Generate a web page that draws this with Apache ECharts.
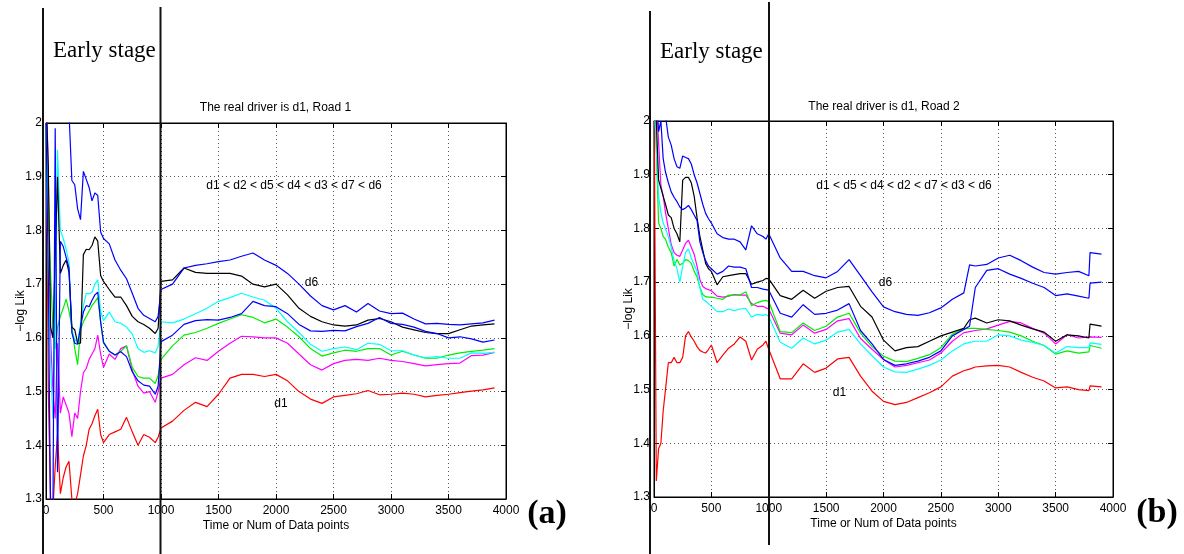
<!DOCTYPE html>
<html><head><meta charset="utf-8">
<script src="https://cdn.jsdelivr.net/npm/echarts/dist/echarts.min.js"></script>
<style>html,body{margin:0;padding:0;background:#fff}#c{width:1184px;height:554px}</style>
</head><body><div id="c"></div><script>
// ---------- data ----------
const X_A = [0,20,40,60,80,100,125,150,175,200,225,250,275,300,325,350,375,400,425,450,475,500,550,600,650,700,750,800,850,900,950,975,1000,
  1100,1200,1300,1400,1500,1600,1700,1800,1900,2000,2100,2200,2300,2400,2500,2600,2700,2800,2900,3000,3100,3200,3300,3400,3500,3600,3700,3800,3900];
const X_B = [0,20,40,60,80,100,125,150,175,200,225,250,275,300,325,350,375,400,425,450,475,500,550,600,650,700,750,800,850,900,950,975,1000,
  1100,1200,1300,1400,1500,1600,1700,1800,1900,2000,2100,2200,2300,2400,2500,2600,2700,2750,2800,2900,3000,3100,3200,3300,3400,3500,3600,3700,3790,3800,3900];

const A_RED = [2.1,1.5,1.30,1.28,1.36,1.42,1.31,1.34,1.36,1.37,1.30,1.29,1.31,1.345,1.38,1.40,1.43,1.44,1.455,1.467,1.42,1.405,1.42,1.425,1.43,1.452,1.425,1.40,1.42,1.415,1.405,1.415,1.432,
  1.445,1.465,1.48,1.472,1.495,1.525,1.532,1.532,1.528,1.532,1.52,1.50,1.486,1.478,1.49,1.493,1.496,1.502,1.494,1.495,1.497,1.495,1.49,1.493,1.495,1.498,1.501,1.503,1.507];
const A_MAGENTA = [2.1,1.9,1.6,1.5,1.45,1.59,1.46,1.49,1.475,1.46,1.416,1.46,1.45,1.50,1.535,1.543,1.56,1.57,1.58,1.605,1.57,1.545,1.57,1.56,1.58,1.585,1.54,1.51,1.497,1.50,1.48,1.50,1.525,
  1.532,1.55,1.563,1.558,1.575,1.59,1.603,1.602,1.60,1.60,1.59,1.57,1.55,1.54,1.552,1.558,1.56,1.558,1.562,1.558,1.556,1.552,1.548,1.55,1.552,1.553,1.567,1.568,1.573];
const A_GREEN = [2.0,1.85,1.72,1.62,1.58,1.62,1.64,1.655,1.672,1.65,1.62,1.58,1.55,1.615,1.63,1.64,1.65,1.66,1.667,1.675,1.63,1.59,1.575,1.568,1.575,1.585,1.545,1.528,1.525,1.525,1.515,1.53,1.56,
  1.585,1.605,1.61,1.618,1.627,1.635,1.643,1.638,1.628,1.635,1.62,1.602,1.58,1.566,1.572,1.577,1.575,1.58,1.58,1.568,1.575,1.568,1.562,1.562,1.568,1.572,1.575,1.577,1.58];
const A_CYAN = [2.0,1.70,1.55,1.45,1.6,1.95,1.80,1.785,1.765,1.74,1.61,1.598,1.59,1.625,1.66,1.683,1.682,1.685,1.70,1.708,1.65,1.632,1.648,1.63,1.627,1.62,1.607,1.58,1.573,1.576,1.572,1.585,1.63,
  1.628,1.635,1.645,1.655,1.668,1.675,1.683,1.676,1.67,1.655,1.63,1.61,1.588,1.575,1.58,1.583,1.578,1.59,1.588,1.576,1.576,1.568,1.563,1.565,1.562,1.562,1.572,1.571,1.573];
const A_BLACK = [2.05,1.92,1.62,1.60,1.75,1.90,1.72,1.735,1.745,1.722,1.62,1.615,1.59,1.59,1.755,1.765,1.764,1.772,1.788,1.78,1.716,1.705,1.69,1.676,1.676,1.66,1.64,1.63,1.625,1.618,1.608,1.618,1.705,
  1.708,1.73,1.722,1.72,1.72,1.72,1.715,1.70,1.695,1.70,1.68,1.655,1.64,1.63,1.624,1.622,1.624,1.633,1.636,1.63,1.62,1.615,1.61,1.608,1.608,1.615,1.622,1.624,1.626];
const A_BLUE_D6 = [2.2,2.2,2.2,2.2,2.2,2.15,2.12,2.1,2.08,2.02,1.893,1.885,1.84,1.82,1.91,1.895,1.88,1.855,1.87,1.865,1.797,1.785,1.775,1.745,1.726,1.71,1.683,1.655,1.642,1.636,1.63,1.64,1.69,
  1.70,1.73,1.735,1.738,1.742,1.745,1.752,1.758,1.745,1.735,1.72,1.70,1.678,1.66,1.652,1.66,1.648,1.664,1.65,1.645,1.646,1.635,1.626,1.627,1.625,1.624,1.626,1.628,1.633];
const A_BLUE_D3 = [2.0,1.72,1.25,1.26,1.99,1.35,1.78,1.77,1.75,1.73,1.61,1.59,1.588,1.62,1.648,1.66,1.658,1.67,1.68,1.685,1.63,1.592,1.575,1.568,1.574,1.565,1.537,1.52,1.512,1.51,1.495,1.51,1.593,
  1.605,1.625,1.632,1.634,1.633,1.638,1.645,1.668,1.66,1.658,1.645,1.625,1.613,1.612,1.614,1.613,1.621,1.627,1.638,1.627,1.625,1.62,1.612,1.608,1.60,1.602,1.598,1.592,1.596];

const B_RED = [2.1,1.33,1.39,1.40,1.46,1.50,1.55,1.55,1.56,1.55,1.55,1.56,1.60,1.608,1.598,1.59,1.58,1.573,1.57,1.568,1.575,1.583,1.55,1.564,1.577,1.585,1.598,1.59,1.555,1.575,1.583,1.59,1.575,
  1.52,1.52,1.548,1.532,1.54,1.557,1.56,1.525,1.497,1.478,1.472,1.476,1.485,1.494,1.505,1.525,1.535,1.538,1.542,1.544,1.545,1.542,1.532,1.523,1.516,1.503,1.505,1.50,1.498,1.507,1.505];
const B_MAGENTA = [2.1,2.05,1.96,1.88,1.86,1.83,1.80,1.77,1.755,1.75,1.748,1.76,1.772,1.778,1.765,1.752,1.73,1.705,1.692,1.688,1.686,1.684,1.674,1.672,1.674,1.677,1.676,1.676,1.66,1.655,1.655,1.652,1.65,
  1.605,1.602,1.62,1.605,1.612,1.628,1.632,1.595,1.575,1.556,1.542,1.545,1.55,1.555,1.568,1.59,1.606,1.608,1.61,1.613,1.62,1.627,1.624,1.614,1.605,1.585,1.602,1.596,1.598,1.60,1.597];
const B_GREEN = [2.05,1.95,1.81,1.80,1.785,1.78,1.765,1.755,1.73,1.742,1.732,1.735,1.742,1.74,1.735,1.72,1.71,1.69,1.677,1.673,1.672,1.672,1.67,1.668,1.676,1.676,1.676,1.682,1.656,1.662,1.665,1.666,1.664,
  1.608,1.606,1.624,1.61,1.618,1.635,1.642,1.605,1.58,1.562,1.553,1.552,1.558,1.565,1.578,1.603,1.613,1.614,1.614,1.612,1.61,1.607,1.60,1.59,1.582,1.566,1.572,1.568,1.57,1.582,1.577];
const B_CYAN = [2.05,1.95,1.86,1.83,1.81,1.80,1.785,1.765,1.74,1.725,1.70,1.73,1.755,1.762,1.745,1.733,1.72,1.69,1.668,1.665,1.66,1.655,1.645,1.645,1.65,1.647,1.65,1.651,1.635,1.64,1.638,1.64,1.636,
  1.588,1.577,1.596,1.585,1.592,1.607,1.612,1.585,1.563,1.542,1.533,1.532,1.538,1.545,1.555,1.572,1.585,1.588,1.59,1.59,1.602,1.60,1.592,1.588,1.582,1.568,1.58,1.578,1.578,1.587,1.584];
const B_BLACK = [2.1,2.0,1.89,1.875,1.86,1.845,1.825,1.82,1.80,1.79,1.775,1.89,1.895,1.895,1.885,1.86,1.82,1.785,1.76,1.735,1.725,1.72,1.695,1.71,1.712,1.714,1.716,1.716,1.696,1.70,1.703,1.707,1.706,
  1.675,1.668,1.685,1.67,1.683,1.69,1.692,1.655,1.635,1.592,1.572,1.578,1.58,1.59,1.60,1.607,1.614,1.63,1.633,1.624,1.63,1.628,1.62,1.613,1.607,1.59,1.602,1.60,1.596,1.622,1.618];
const B_BLUE_D6 = [2.2,2.2,2.15,2.1,2.05,2.01,1.97,1.955,1.93,1.915,1.912,1.935,1.932,1.93,1.92,1.90,1.885,1.865,1.845,1.828,1.818,1.81,1.79,1.783,1.78,1.78,1.775,1.76,1.805,1.79,1.785,1.78,1.79,
  1.745,1.72,1.72,1.712,1.708,1.72,1.742,1.712,1.682,1.654,1.645,1.64,1.638,1.643,1.652,1.668,1.68,1.732,1.73,1.733,1.745,1.75,1.74,1.728,1.718,1.715,1.718,1.72,1.712,1.755,1.752];
const B_BLUE_D3 = [2.1,2.05,1.98,2.0,1.93,1.905,1.885,1.868,1.858,1.85,1.84,1.835,1.838,1.843,1.835,1.825,1.815,1.775,1.755,1.74,1.73,1.725,1.715,1.72,1.73,1.728,1.728,1.725,1.69,1.69,1.687,1.686,1.685,
  1.642,1.635,1.658,1.64,1.642,1.648,1.66,1.61,1.585,1.556,1.545,1.548,1.553,1.56,1.572,1.60,1.612,1.618,1.69,1.722,1.725,1.715,1.707,1.698,1.69,1.675,1.678,1.674,1.67,1.698,1.70];

const X_TICKS = {min: 0, max: 4000, step: 500};
const Y_TICKS = {min: 1.3, max: 2.0, step: 0.1};
const TITLES = ['The real driver is d1, Road 1', 'The real driver is d1, Road 2'];
const RANKINGS = ['d1 < d2 < d5 < d4 < d3 < d7 < d6', 'd1 < d5 < d4 < d2 < d7 < d3 < d6'];
const X_NAME = 'Time or Num of Data points';
const Y_NAME = '\u2212log Lik';

// ---------- chart ----------
const SANS = '"Liberation Sans", Arial, sans-serif';
const SERIF = '"Liberation Serif", "Times New Roman", serif';
const chart = echarts.init(document.getElementById('c'), null, {renderer: 'canvas'});

const grids = [
  {left: 46, top: 123, width: 460, height: 376},
  {left: 654, top: 121, width: 459, height: 376}
].map(g => Object.assign(g, {show: true, borderColor: '#000', borderWidth: 1, backgroundColor: '#fff'}));

const xAxes = [], yAxes = [];
[0, 1].forEach(gi => {
  const baseX = {type: 'value', gridIndex: gi, min: X_TICKS.min, max: X_TICKS.max, interval: X_TICKS.step,
    axisLine: {show: true, onZero: false, lineStyle: {color: '#000', width: 1}},
    axisTick: {show: true, inside: true, length: 5, lineStyle: {color: '#000'}}};
  const baseY = {type: 'value', gridIndex: gi, min: Y_TICKS.min, max: Y_TICKS.max, interval: Y_TICKS.step,
    axisLine: {show: true, onZero: false, lineStyle: {color: '#000', width: 1}},
    axisTick: {show: true, inside: true, length: 5, lineStyle: {color: '#000'}}};
  xAxes.push(Object.assign({}, baseX, {position: 'bottom',
    axisLabel: {color: '#000', fontSize: 12, fontFamily: SANS, margin: 6, formatter: v => String(Math.round(v))},
    splitLine: {show: true, lineStyle: {type: [1, 3], color: '#555', width: 1}},
    name: X_NAME, nameLocation: 'middle', nameGap: 21, nameMoveOverlap: false,
    nameTextStyle: {color: '#000', fontSize: 12, fontFamily: SANS}}));
  xAxes.push(Object.assign({}, baseX, {position: 'top', axisLabel: {show: false}, splitLine: {show: false}}));
  yAxes.push(Object.assign({}, baseY, {position: 'left',
    axisLabel: {color: '#000', fontSize: 12, fontFamily: SANS, margin: 4,
      formatter: v => String(Math.round(v * 10) / 10)},
    splitLine: {show: true, lineStyle: {type: [1, 3], color: '#555', width: 1}},
    name: Y_NAME, nameLocation: 'middle', nameGap: 19, nameRotate: 90, nameMoveOverlap: false,
    nameTextStyle: {color: '#000', fontSize: 12, fontFamily: SANS}}));
  yAxes.push(Object.assign({}, baseY, {position: 'right', axisLabel: {show: false}, splitLine: {show: false}}));
});

function mk(name, X, Y, color, gi) {
  return {name, type: 'line', xAxisIndex: gi * 2, yAxisIndex: gi * 2, symbol: 'none', clip: true,
    data: X.map((x, i) => [x, Y[i]]), lineStyle: {color, width: 1.2}, itemStyle: {color},
    silent: true, animation: false};
}
const series = [
  mk('d1', X_A, A_RED, '#ff0000', 0),
  mk('d2', X_A, A_MAGENTA, '#ff00ff', 0),
  mk('d4', X_A, A_GREEN, '#00ee00', 0),
  mk('d5', X_A, A_CYAN, '#00ffff', 0),
  mk('d7', X_A, A_BLACK, '#000000', 0),
  mk('d3', X_A, A_BLUE_D3, '#0000ff', 0),
  mk('d6', X_A, A_BLUE_D6, '#0000ff', 0),
  mk('d1', X_B, B_RED, '#ff0000', 1),
  mk('d2', X_B, B_MAGENTA, '#ff00ff', 1),
  mk('d5', X_B, B_GREEN, '#00ee00', 1),
  mk('d4', X_B, B_CYAN, '#00ffff', 1),
  mk('d7', X_B, B_BLACK, '#000000', 1),
  mk('d3', X_B, B_BLUE_D3, '#0000ff', 1),
  mk('d6', X_B, B_BLUE_D6, '#0000ff', 1)
];

function txt(text, x, y, font, align) {
  return {type: 'text', z: 100, style: {text, x, y, font, fill: '#000', textAlign: align || 'center', textVerticalAlign: 'middle', verticalAlign: 'middle'}};
}
function vline(x, y1, y2) {
  return {type: 'line', z: 100, shape: {x1: x, y1, x2: x, y2}, style: {stroke: '#111', lineWidth: 2}};
}
const graphic = [
  vline(43, 8, 554), vline(160.5, 7, 554),
  vline(650, 11, 554), vline(769, 2, 545),
  txt('Early stage', 53, 51, '23px ' + SERIF, 'left'),
  txt('Early stage', 660, 52, '23px ' + SERIF, 'left'),
  txt('(a)', 547, 514, 'bold 34px ' + SERIF),
  txt('(b)', 1157, 513, 'bold 34px ' + SERIF),
  txt(TITLES[0], 275.5, 108, '12px ' + SANS),
  txt(TITLES[1], 884, 107, '12px ' + SANS),
  txt(RANKINGS[0], 294, 186, '12px ' + SANS),
  txt(RANKINGS[1], 904, 186, '12px ' + SANS),
  txt('d6', 311.5, 283, '12px ' + SANS),
  txt('d1', 281, 404, '12px ' + SANS),
  txt('d6', 885.5, 283, '12px ' + SANS),
  txt('d1', 839.5, 393, '12px ' + SANS)
];

chart.setOption({
  animation: false,
  backgroundColor: '#fff',
  grid: grids,
  xAxis: xAxes,
  yAxis: yAxes,
  series,
  graphic
});
</script></body></html>
